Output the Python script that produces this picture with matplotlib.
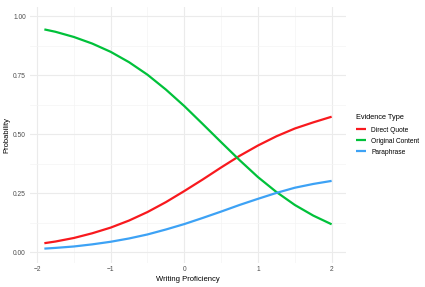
import matplotlib
matplotlib.use("Agg")
import matplotlib.pyplot as plt
from matplotlib.ticker import MultipleLocator

plt.rcParams["font.family"] = ["Liberation Sans", "DejaVu Sans"]

proficiency = [-1.9, -1.75, -1.5, -1.25, -1.0, -0.75, -0.5, -0.25, 0.0,
               0.25, 0.5, 0.75, 1.0, 1.25, 1.5, 1.75, 2.0]
direct_quote = [0.039, 0.046, 0.061, 0.081, 0.105, 0.135, 0.171, 0.213, 0.260,
                0.309, 0.360, 0.409, 0.453, 0.492, 0.525, 0.551, 0.575]
original_content = [0.945, 0.935, 0.913, 0.885, 0.850, 0.806, 0.753, 0.690, 0.620,
                    0.544, 0.467, 0.391, 0.319, 0.256, 0.201, 0.156, 0.119]
paraphrase = [0.016, 0.019, 0.025, 0.034, 0.045, 0.059, 0.076, 0.097, 0.120,
              0.146, 0.173, 0.201, 0.227, 0.252, 0.274, 0.290, 0.303]

series_names = ["Direct Quote", "Original Content", "Paraphrase"]
colors = ["#F8191E", "#00C13A", "#3DA2F5"]
x_ticks = [-2, -1, 0, 1, 2]
y_ticks = [0.00, 0.25, 0.50, 0.75, 1.00]
y_tick_labels = ["0.00", "0.25", "0.50", "0.75", "1.00"]

W, H = 425, 287
fig = plt.figure(figsize=(W / 100, H / 100), dpi=100)
L, R, T, B = 30, 346, 7, 263
ax = fig.add_axes([L / W, 1 - B / H, (R - L) / W, (B - T) / H])

for name, vals, c in zip(series_names, [direct_quote, original_content, paraphrase], colors):
    ax.plot(proficiency, vals, color=c, lw=1.6, label=name, solid_capstyle="butt")

ax.set_xlim(-2.095, 2.195)
ax.set_ylim(-0.045, 1.04)
ax.set_xticks(x_ticks)
ax.set_xticklabels(["\u22122", "\u22121", "0", "1", "2"])
ax.set_yticks(y_ticks)
ax.set_yticklabels(y_tick_labels)
ax.xaxis.set_minor_locator(MultipleLocator(0.5))
ax.yaxis.set_minor_locator(MultipleLocator(0.125))
ax.grid(True, which="major", color="#EBEBEB", lw=0.8)
ax.grid(True, which="minor", color="#F4F4F4", lw=0.5)
ax.set_axisbelow(True)
for s in ax.spines.values():
    s.set_visible(False)
ax.tick_params(which="both", length=0, labelsize=4.8, labelcolor="#4D4D4D")
ax.tick_params(axis="x", pad=2.5)
ax.tick_params(axis="y", pad=2.9)
ax.set_xlabel("Writing Proficiency", fontsize=5.5, labelpad=2)
ax.set_ylabel("Probability", fontsize=5.5, labelpad=1.8)

leg = ax.legend(title="Evidence Type", loc="upper left",
                bbox_to_anchor=(356 / W, 1 - 114 / H), bbox_transform=fig.transFigure,
                frameon=False, fontsize=4.8, title_fontsize=5.3, handlelength=1.5,
                handletextpad=0.75, labelspacing=0.6, borderaxespad=0, borderpad=0)
leg._legend_box.align = "left"
leg._legend_box.sep = 4

fig.savefig("out.png", dpi=100)
